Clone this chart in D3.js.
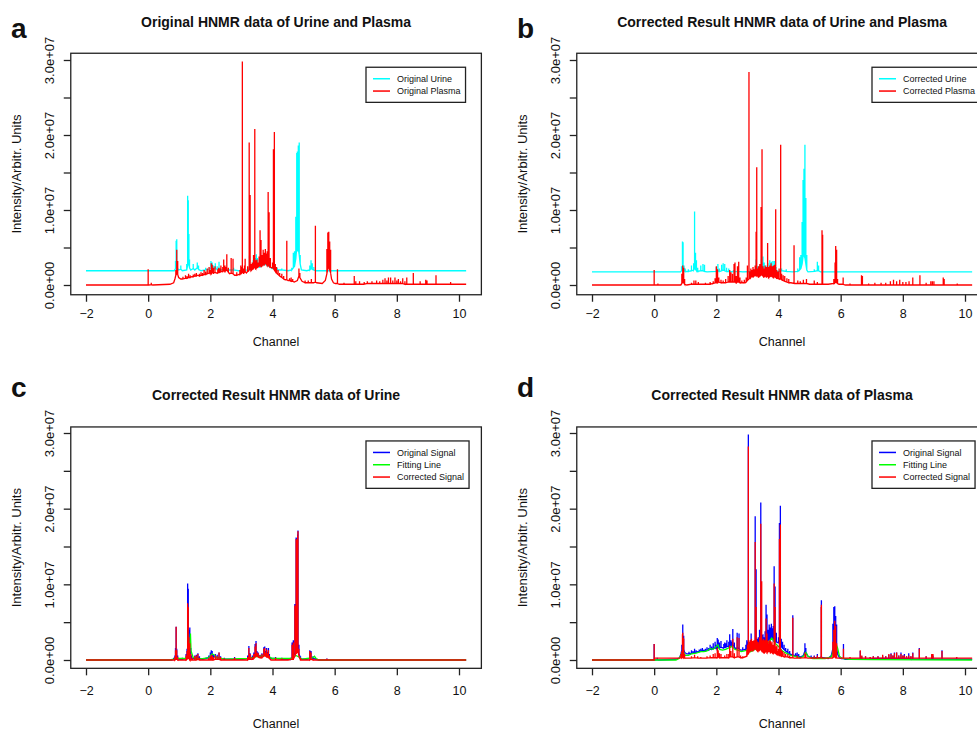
<!DOCTYPE html>
<html>
<head>
<meta charset="utf-8">
<script src="https://cdn.jsdelivr.net/npm/d3@7"></script>
<style>
    body { margin: 0; background: #fff; }
    svg { display: block; }
    text { font-family: "Liberation Sans", Arial, sans-serif; fill: #111; }
</style>
</head>
<body>
<svg class="spectra" width="977" height="730"></svg>
<script>
// intensities in units of 1e6, channel in ppm
// a point is [ppm, value]; [ppm, foot, top] is a spike going up from foot to top

var urineOrig = [
    [-2, 1.9], [0.84, 1.9], [0.88, 2.2, 3.2], [0.9, 2.4, 5.9], [0.92, 2.5, 6.1], [0.94, 2.3, 3.0], [0.97, 2.0],
    [1.05, 2.1, 2.6], [1.1, 1.9], [1.24, 2.0, 2.8], [1.27, 2.6, 11.9], [1.29, 3.0, 11.3], [1.31, 2.8, 6.8],
    [1.33, 2.3, 3.4], [1.37, 2.0], [1.45, 2.2, 2.8], [1.5, 2.0], [1.58, 2.3, 3.0], [1.62, 2.1, 2.6], [1.7, 1.9],
    [1.85, 2.0, 2.3], [1.95, 2.1], [2.02, 2.2, 3.2], [2.06, 2.3, 3.0], [2.1, 2.1, 2.6], [2.16, 2.2, 2.9],
    [2.22, 2.1, 2.5], [2.28, 2.2, 3.1], [2.33, 2.0], [2.45, 2.1, 2.4], [2.6, 2.0], [2.75, 2.0, 2.3], [2.9, 1.9],
    [3.2, 2.0, 2.4], [3.26, 2.2, 3.9], [3.3, 2.1, 2.8], [3.38, 2.3, 3.3], [3.44, 2.6, 3.6], [3.48, 2.8, 4.1],
    [3.52, 2.6, 3.6], [3.58, 2.4, 2.9], [3.64, 2.5, 3.2], [3.7, 2.7, 3.5], [3.74, 2.8, 3.8], [3.79, 2.7, 3.4],
    [3.84, 2.6, 3.6], [3.88, 2.5, 3.2], [3.93, 2.4, 3.0], [3.98, 2.2], [4.05, 2.2, 2.6], [4.15, 2.0, 2.3],
    [4.3, 2.0, 2.2], [4.5, 1.9], [4.62, 2.0, 2.3], [4.67, 2.3, 4.3], [4.71, 2.5, 4.5], [4.75, 3.5, 9.1],
    [4.78, 5.0, 17.6], [4.8, 4.5, 17.8], [4.83, 4.8, 18.6], [4.86, 4.0, 19.0], [4.89, 2.8, 4.0], [4.93, 2.0],
    [5.1, 1.9], [5.2, 2.0, 2.6], [5.24, 2.2, 3.3], [5.28, 2.1, 2.9], [5.33, 2.0, 2.4], [5.4, 1.9], [10.23, 1.9]
];

var plasmaOrig = [
    [-2, 0], [-0.02, 0], [0, 0, 2.1], [0.02, 0], [0.1, 0.05, 0.3], [0.15, 0], [0.7, 0.1], [0.82, 0.3], [0.86, 0.8],
    [0.89, 1.3, 2.0], [0.92, 1.5, 4.7], [0.95, 1.4, 3.2], [0.98, 1.0], [1.05, 0.8], [1.12, 0.8, 1.1],
    [1.2, 0.9, 1.3], [1.25, 0.9, 1.2], [1.3, 1.0, 1.5], [1.35, 1.0, 1.3], [1.4, 1.1], [1.45, 1.1, 1.4],
    [1.5, 1.2, 1.5], [1.55, 1.2, 1.6], [1.6, 1.3], [1.65, 1.2, 1.5], [1.7, 1.3, 1.7], [1.75, 1.3, 1.6],
    [1.8, 1.4, 2.0], [1.85, 1.4, 1.8], [1.9, 1.5, 2.2], [1.96, 1.6, 2.4], [2.0, 1.5, 2.0],
    [2.03, 1.5, 2.9], [2.06, 1.7, 2.7], [2.1, 1.6, 2.3], [2.15, 1.7, 2.5], [2.2, 1.6], [2.24, 1.6, 2.1], [2.27, 1.7, 2.3],
    [2.31, 1.7, 2.2], [2.34, 1.8, 2.6], [2.4, 1.8, 2.4], [2.43, 1.9, 3.4], [2.47, 1.8, 2.6], [2.5, 1.9, 2.4],
    [2.53, 2.0, 4.1], [2.58, 1.7, 2.3], [2.62, 1.5], [2.67, 1.6, 3.6], [2.73, 1.5, 3.5], [2.78, 1.3],
    [2.85, 1.3, 1.7], [2.92, 1.4], [2.95, 1.4, 2.0], [2.98, 1.5, 2.6], [3.01, 1.6, 2.4],
    [3.03, 1.7, 29.8], [3.07, 1.6, 2.2], [3.1, 1.7, 2.6], [3.12, 1.8, 3.5], [3.16, 1.6], [3.2, 1.8, 2.5], [3.25, 2.0, 19.0],
    [3.28, 2.2, 12.0], [3.31, 1.9, 2.8], [3.35, 2.1, 3.0], [3.39, 2.2, 4.0], [3.43, 2.4, 20.8], [3.46, 2.2, 3.3],
    [3.5, 2.3, 3.4], [3.54, 2.4, 3.0], [3.57, 2.5, 3.8], [3.6, 2.6, 7.3], [3.63, 2.5, 6.0], [3.67, 2.6, 4.0],
    [3.7, 2.8, 4.7], [3.73, 2.7, 4.3], [3.77, 2.9, 4.8], [3.8, 2.8, 4.2], [3.83, 2.6, 4.5], [3.86, 2.7, 12.4],
    [3.89, 2.5, 9.7], [3.93, 2.4, 3.6], [3.97, 2.3], [4.0, 2.3, 3.0], [4.03, 2.2, 18.1], [4.06, 2.0, 20.4],
    [4.09, 1.8, 2.8], [4.11, 1.7, 2.2],
    [4.13, 1.6, 2.4], [4.18, 1.4, 2.0], [4.23, 1.2, 1.6], [4.3, 1.0, 1.5], [4.36, 0.8, 1.2], [4.42, 0.7],
    [4.46, 0.7, 5.9], [4.5, 0.6], [4.55, 0.6, 0.9], [4.6, 0.5, 1.0], [4.65, 0.5, 0.8], [4.7, 0.4], [4.8, 0.6],
    [4.85, 1.2, 2.2], [4.88, 1.0, 1.6],
    [4.95, 0.5], [5.05, 0.3, 0.6], [5.15, 0.3, 0.6], [5.25, 0.3, 0.8], [5.32, 0.3], [5.38, 0.4, 7.9], [5.42, 0.3],
    [5.6, 0.2], [5.7, 0.6], [5.75, 1.5, 4.8], [5.78, 2.2, 7.0], [5.81, 2.4, 7.1], [5.84, 2.0, 5.8], [5.87, 1.6, 4.7],
    [5.9, 0.8], [5.96, 0.3], [6.02, 0.2], [6.09, 0.2, 2.1], [6.15, 0.1], [6.3, 0.1, 0.3], [6.5, 0.1],
    [6.63, 0.1, 1.2], [6.68, 0.1, 0.5], [6.8, 0.1, 0.5], [6.95, 0.1, 0.4], [7.05, 0.2, 0.5], [7.2, 0.2, 0.5],
    [7.35, 0.2, 0.6], [7.45, 0.2, 0.5], [7.55, 0.2, 0.7], [7.62, 0.2, 0.9], [7.68, 0.2, 0.6], [7.73, 0.2, 1.0],
    [7.8, 0.2, 1.0], [7.87, 0.2, 0.6], [7.94, 0.2, 1.0], [8.0, 0.2, 0.6], [8.05, 0.2, 0.8], [8.12, 0.2, 0.5],
    [8.19, 0.2, 0.9], [8.26, 0.1, 0.5], [8.32, 0.1, 1.0], [8.4, 0.1], [8.53, 0.1, 1.6], [8.6, 0.1],
    [8.75, 0.1, 0.5], [8.93, 0.1, 0.7], [8.97, 0.1, 0.6], [9.1, 0.1], [9.26, 0.1, 1.3], [9.4, 0.1],
    [9.73, 0.1, 0.4], [9.9, 0.1], [10.23, 0.1]
];

var urineCorr = [
    [-2, 1.75], [0.85, 1.75], [0.88, 1.9, 2.5], [0.91, 2.0, 5.8], [0.93, 2.0, 5.7], [0.96, 1.9, 2.6], [1.0, 1.8, 2.2],
    [1.1, 1.8, 2.1], [1.2, 1.9, 2.6], [1.27, 2.0, 2.9], [1.3, 2.2, 9.8], [1.33, 2.1, 4.3], [1.36, 1.9, 3.3],
    [1.4, 1.8, 2.3], [1.5, 1.9, 2.6], [1.57, 1.9, 2.8], [1.62, 1.8, 2.7], [1.7, 1.75], [2.0, 1.8, 2.4],
    [2.05, 1.9, 2.8], [2.1, 1.8, 2.2], [2.17, 1.9, 2.7], [2.22, 2.0, 2.9], [2.27, 1.9, 2.8], [2.33, 1.8, 2.3],
    [2.4, 1.8, 2.2], [2.55, 1.75, 2.0], [2.7, 1.8, 2.2], [2.85, 1.75], [3.2, 1.8, 2.1], [3.28, 2.0, 3.4],
    [3.33, 1.9, 2.5], [3.4, 2.0, 2.7], [3.45, 2.2, 3.4], [3.5, 2.3, 3.8], [3.54, 2.1, 3.0], [3.6, 2.0, 2.6],
    [3.66, 2.1, 2.9], [3.72, 2.2, 3.3], [3.77, 2.1, 3.1], [3.82, 2.1, 3.2], [3.87, 2.0, 3.2], [3.92, 1.9, 2.4],
    [4.0, 1.8], [4.1, 1.9, 2.2], [4.25, 1.8, 2.1], [4.45, 1.75], [4.62, 1.8, 2.2], [4.68, 2.0, 3.7],
    [4.72, 2.2, 4.0], [4.76, 2.8, 8.4], [4.79, 3.8, 14.0], [4.82, 4.0, 15.5], [4.85, 3.6, 18.7], [4.88, 2.8, 11.6],
    [4.91, 2.0, 4.0], [4.95, 1.75], [5.15, 1.8, 2.1], [5.25, 1.9, 3.1], [5.29, 1.9, 2.6], [5.35, 1.75], [10.23, 1.75]
];

var plasmaCorr = [
    [-2, 0], [-0.02, 0], [0, 0, 2.0], [0.02, 0], [0.12, 0, 0.2], [0.2, 0], [0.85, 0], [0.89, 0.2, 1.5],
    [0.92, 0.4, 2.6], [0.95, 0.3, 2.3], [0.98, 0.1, 0.8], [1.05, 0], [1.2, 0.1, 0.3], [1.28, 0.1, 0.6],
    [1.34, 0.1, 0.6], [1.42, 0.1, 0.4], [1.5, 0.1], [1.65, 0.1, 0.3], [1.8, 0.1, 0.4], [1.9, 0.2, 0.5],
    [1.96, 0.3, 0.9], [2.0, 0.3, 2.5], [2.04, 0.3, 2.1], [2.08, 0.4, 1.0], [2.15, 0.3, 0.7], [2.22, 0.3, 0.6],
    [2.3, 0.3, 0.8], [2.38, 0.4, 1.2], [2.43, 0.4, 2.0], [2.47, 0.4, 1.7], [2.52, 0.4, 1.5], [2.57, 0.4, 2.8],
    [2.6, 0.4, 3.0], [2.64, 0.3, 1.2], [2.68, 0.4, 2.5], [2.72, 0.4, 3.1], [2.76, 0.3, 1.0], [2.82, 0.3, 0.6],
    [2.9, 0.3, 0.7], [2.96, 0.4, 1.0], [3.0, 0.6, 2.6], [3.05, 0.8, 28.4], [3.08, 0.9, 1.8], [3.11, 1.0, 2.2],
    [3.14, 1.2, 2.0], [3.18, 1.1, 2.4], [3.22, 1.2, 2.1], [3.25, 1.3, 2.6], [3.28, 1.2, 7.1], [3.3, 1.4, 15.7],
    [3.33, 1.2, 2.2], [3.36, 1.1, 2.5], [3.4, 1.2, 2.8], [3.44, 1.3, 10.4], [3.47, 1.4, 18.1], [3.5, 1.2, 2.5],
    [3.53, 1.1, 2.2], [3.57, 1.2, 2.6], [3.61, 1.1, 2.4], [3.65, 1.2, 5.6], [3.68, 1.0, 2.4], [3.72, 1.1, 2.6],
    [3.76, 1.2, 2.9], [3.8, 1.1, 2.5], [3.84, 1.0, 2.6], [3.88, 1.1, 2.7], [3.91, 1.0, 10.1], [3.94, 0.9, 2.0],
    [3.98, 0.9, 1.8], [4.02, 0.8, 2.2], [4.07, 0.8, 18.7], [4.1, 0.7, 1.5], [4.15, 0.6, 1.3], [4.2, 0.5, 1.2],
    [4.27, 0.4, 0.9], [4.33, 0.3, 0.8], [4.4, 0.3], [4.5, 0.2, 5.3], [4.55, 0.2], [4.62, 0.2, 0.6],
    [4.7, 0.2, 0.5], [4.8, 0.2, 0.7], [4.9, 0.2, 0.8], [5.0, 0.1], [5.15, 0.1, 0.6], [5.25, 0.1, 0.4], [5.32, 0.1],
    [5.4, 0.1, 7.3], [5.42, 0.1, 6.7], [5.45, 0.1], [5.6, 0.1], [5.78, 0.2, 0.8], [5.82, 0.3, 3.0],
    [5.84, 0.4, 5.2], [5.87, 0.3, 4.7], [5.9, 0.2, 0.8], [5.95, 0.1], [6.08, 0.1, 1.0], [6.15, 0], [6.3, 0, 0.2],
    [6.6, 0], [6.67, 0, 1.3], [6.7, 0, 1.2], [6.75, 0], [6.9, 0, 0.2], [7.1, 0, 0.3], [7.3, 0, 0.3], [7.45, 0, 0.3],
    [7.6, 0, 0.5], [7.7, 0, 0.7], [7.8, 0, 0.5], [7.9, 0, 0.7], [8.0, 0, 0.4], [8.1, 0, 0.4], [8.2, 0, 0.5],
    [8.32, 0, 1.0], [8.4, 0], [8.55, 0, 1.3], [8.6, 0], [8.75, 0, 0.3], [8.9, 0, 0.5], [8.95, 0, 0.5],
    [9.0, 0, 0.5], [9.1, 0], [9.3, 0, 1.0], [9.33, 0, 0.8], [9.4, 0], [9.75, 0, 0.2], [10.23, 0]
];

var urineSignal = [
    [-2, 0], [0.75, 0], [0.82, 0.1, 0.3], [0.86, 0.2, 0.6], [0.88, 0.3, 1.6], [0.9, 0.4, 4.4], [0.92, 0.4, 1.5],
    [0.95, 0.2, 0.6], [1.0, 0.1], [1.1, 0.1, 0.3], [1.22, 0.2, 0.8], [1.25, 0.5, 1.5], [1.27, 0.9, 10.1],
    [1.29, 1.0, 9.4], [1.31, 0.9, 4.0], [1.34, 0.6, 4.3], [1.37, 0.3, 1.6], [1.4, 0.2, 0.6], [1.5, 0.2, 0.6],
    [1.55, 0.2, 0.7], [1.6, 0.3, 0.9], [1.65, 0.2, 0.5], [1.75, 0.1], [1.95, 0.3, 0.6], [2.0, 0.4, 1.0],
    [2.03, 0.6, 1.3], [2.06, 0.6, 1.2], [2.1, 0.4, 0.7], [2.16, 0.4, 0.8], [2.22, 0.3, 0.7], [2.28, 0.3, 1.0],
    [2.33, 0.2, 0.5], [2.45, 0.1, 0.3], [2.6, 0.1], [2.78, 0.1, 0.4], [2.9, 0.1], [3.05, 0.1, 0.2],
    [3.2, 0.2, 0.6], [3.24, 0.3, 1.85], [3.28, 0.3, 0.9], [3.35, 0.3, 0.6], [3.4, 0.4, 1.0], [3.44, 0.6, 2.1],
    [3.47, 0.7, 2.5], [3.5, 0.7, 1.2], [3.54, 0.6, 1.0], [3.6, 0.4, 0.7], [3.66, 0.5, 0.9], [3.72, 0.7, 1.7],
    [3.75, 0.8, 1.8], [3.78, 0.7, 1.2], [3.81, 0.6, 1.6], [3.84, 0.6, 1.1], [3.87, 0.5, 1.6], [3.9, 0.4, 0.8],
    [3.95, 0.2], [4.1, 0.2, 0.4], [4.3, 0.1, 0.3], [4.5, 0.1], [4.58, 0.1, 0.3], [4.63, 0.3, 2.3],
    [4.67, 0.4, 2.6], [4.72, 1.0, 7.4], [4.76, 1.5, 16.2], [4.78, 1.5, 16.1], [4.79, 1.4, 16.0],
    [4.81, 1.5, 16.6], [4.82, 1.6, 17.1], [4.85, 0.9, 2.0], [4.9, 0.2, 0.5], [4.95, 0.1], [5.1, 0.1],
    [5.2, 0.2, 1.3], [5.24, 0.3, 1.2], [5.3, 0.2, 0.5], [5.38, 0.1, 0.3], [5.5, 0], [5.75, 0, 0.2], [5.9, 0],
    [7.0, 0, 0.1], [7.2, 0, 0.1], [7.4, 0, 0.1], [10.23, 0]
];

var urineFit = [
    [-2, 0], [0.7, 0], [0.85, 0.15], [0.9, 0.3], [0.95, 0.2], [1.2, 0.2], [1.3, 0.8], [1.34, 2.0], [1.36, 3.5],
    [1.38, 1.2], [1.45, 0.3], [1.7, 0.15], [1.95, 0.3], [2.05, 0.8], [2.12, 0.7], [2.2, 0.3], [2.5, 0.1],
    [3.2, 0.2], [3.45, 0.4], [3.8, 0.6], [4.0, 0.2], [4.6, 0.2], [4.75, 0.6], [4.85, 0.4], [4.95, 0.1],
    [5.3, 0.3], [5.35, 0.5], [5.4, 0.2], [5.5, 0], [10.23, 0]
];

var urineCorrSignal = [
    [-2, 0], [0.8, 0], [0.86, 0, 0.4], [0.88, 0.1, 1.3], [0.9, 0.1, 4.4], [0.92, 0.1, 1.3], [0.95, 0, 0.4],
    [1.0, 0], [1.22, 0, 0.6], [1.25, 0.1, 1.2], [1.27, 0.2, 7.5], [1.29, 0.3, 7.0], [1.31, 0.2, 3.0],
    [1.34, 0, 2.2], [1.37, 0, 0.8], [1.42, 0, 0.3], [1.5, 0, 0.5], [1.55, 0, 0.6], [1.6, 0.1, 0.8],
    [1.65, 0, 0.3], [1.75, 0], [1.95, 0, 0.3], [2.0, 0, 0.5], [2.03, 0, 0.7], [2.06, 0, 0.6], [2.1, 0, 0.4],
    [2.16, 0.1, 0.6], [2.22, 0.1, 0.5], [2.28, 0.1, 1.0], [2.33, 0, 0.4], [2.45, 0, 0.2], [2.6, 0],
    [2.78, 0, 0.3], [2.9, 0], [3.2, 0, 0.4], [3.24, 0.1, 1.6], [3.28, 0.1, 0.8], [3.35, 0.1, 0.4],
    [3.4, 0.2, 0.8], [3.44, 0.4, 1.8], [3.47, 0.5, 2.2], [3.5, 0.5, 1.0], [3.54, 0.4, 0.9], [3.6, 0.3, 0.6],
    [3.66, 0.3, 0.8], [3.72, 0.5, 1.5], [3.75, 0.6, 1.6], [3.78, 0.5, 1.0], [3.81, 0.4, 1.4], [3.84, 0.4, 0.9],
    [3.87, 0.3, 1.3], [3.9, 0.2, 0.6], [3.95, 0], [4.1, 0, 0.3], [4.3, 0, 0.2], [4.5, 0], [4.63, 0.1, 2.0],
    [4.67, 0.1, 2.3], [4.72, 0.5, 7.2], [4.76, 1.0, 16.0], [4.78, 1.0, 15.9], [4.79, 1.0, 15.8],
    [4.81, 1.1, 16.4], [4.82, 1.2, 17.0], [4.85, 0.5, 1.5], [4.9, 0, 0.3], [4.95, 0], [5.2, 0, 1.2],
    [5.24, 0.1, 1.0], [5.3, 0, 0.2], [5.5, 0], [5.75, 0, 0.15], [5.9, 0], [10.23, 0]
];

var plasmaFit = [
    [-2, 0], [0.7, 0], [0.8, 0.2], [0.86, 0.6], [0.9, 1.0], [0.95, 1.0], [1.0, 0.6], [1.1, 0.6], [1.2, 0.8],
    [1.35, 0.9], [1.5, 1.1], [1.6, 1.1], [1.7, 1.2], [1.8, 1.5], [1.9, 1.4], [2.0, 1.8], [2.05, 2.0], [2.1, 1.4],
    [2.2, 1.3], [2.3, 1.4], [2.4, 1.6], [2.5, 1.8], [2.6, 1.4], [2.7, 1.3], [2.8, 1.1], [2.9, 1.2], [3.0, 1.3],
    [3.1, 1.1], [3.2, 1.3], [3.3, 1.5], [3.4, 1.6], [3.5, 1.8], [3.6, 2.0], [3.7, 2.4], [3.78, 2.9], [3.84, 2.6],
    [3.9, 2.2], [4.0, 1.8], [4.1, 1.3], [4.2, 1.0], [4.3, 0.8], [4.4, 0.6], [4.5, 0.5], [4.6, 0.4], [4.7, 0.3],
    [4.8, 0.5], [4.88, 1.0], [4.95, 0.5], [5.1, 0.2], [5.3, 0.2], [5.5, 0.2], [5.7, 0.4], [5.78, 1.5],
    [5.84, 2.2], [5.9, 1.6], [5.96, 0.5], [6.05, 0.2], [6.3, 0.1], [7.0, 0.05], [10.23, 0]
];

var plasmaCorrSignal = [
    [-2, 0], [-0.01, 0], [0, 0, 2.1], [0.02, 0.25], [0.8, 0.25], [0.86, 0.3, 0.8], [0.89, 0.3, 1.2],
    [0.91, 0.4, 3.4], [0.92, 0.4, 3.6], [0.94, 0.3, 2.9], [0.95, 0.3, 2.8], [0.98, 0.25, 0.8], [1.05, 0.25],
    [1.2, 0.25, 0.5], [1.3, 0.3, 0.7],
    [1.4, 0.25, 0.5], [1.5, 0.25, 0.4], [1.7, 0.25, 0.5], [1.8, 0.3, 0.6], [1.9, 0.3, 0.8], [1.96, 0.3, 0.9],
    [2.03, 0.3, 1.6], [2.06, 0.4, 1.3], [2.1, 0.3, 0.9], [2.15, 0.3, 0.8], [2.27, 0.3, 0.6], [2.34, 0.3, 0.8],
    [2.4, 0.3, 0.8], [2.43, 0.4, 1.9], [2.47, 0.4, 1.2], [2.53, 0.4, 2.8], [2.58, 0.3, 0.9], [2.67, 0.4, 3.0],
    [2.73, 0.4, 2.9], [2.78, 0.3, 0.6], [2.85, 0.3, 0.5], [2.98, 0.5, 1.4], [3.0, 0.7, 2.0], [3.03, 0.8, 28.2],
    [3.05, 1.0, 2.4], [3.07, 1.1, 1.8], [3.09, 1.2, 2.6], [3.11, 1.3, 2.2], [3.13, 1.3, 2.8], [3.15, 1.4, 2.2],
    [3.17, 1.3, 2.5], [3.19, 1.4, 2.0], [3.21, 1.4, 2.6], [3.23, 1.5, 2.3], [3.25, 1.5, 15.6], [3.28, 1.4, 7.0],
    [3.3, 1.3, 2.6], [3.32, 1.3, 2.0], [3.34, 1.2, 2.4], [3.36, 1.3, 2.2], [3.39, 1.3, 3.0], [3.41, 1.4, 2.5],
    [3.43, 1.4, 18.0], [3.46, 1.2, 10.4], [3.48, 1.2, 2.6], [3.5, 1.1, 2.3], [3.52, 1.1, 2.8], [3.54, 1.0, 2.0],
    [3.56, 1.1, 2.6], [3.58, 1.1, 2.4], [3.6, 1.2, 5.5], [3.63, 1.0, 3.5], [3.65, 1.1, 2.5], [3.67, 1.1, 2.2],
    [3.7, 1.2, 2.6], [3.72, 1.1, 2.3], [3.74, 1.0, 2.5], [3.77, 1.1, 2.2], [3.79, 1.0, 2.4], [3.81, 1.0, 1.8],
    [3.83, 0.9, 2.0], [3.86, 1.0, 10.1], [3.89, 0.9, 7.0], [3.91, 0.9, 1.8], [3.93, 0.8, 1.6], [3.95, 0.8, 1.9],
    [3.97, 0.7, 1.2], [4.0, 0.7, 1.5], [4.03, 0.6, 16.0], [4.06, 0.6, 17.9], [4.09, 0.5, 1.4],
    [4.13, 0.5, 1.2], [4.18, 0.4, 1.0], [4.23, 0.4, 0.8], [4.3, 0.4, 0.8], [4.36, 0.3, 0.6], [4.46, 0.3, 5.6],
    [4.5, 0.25], [4.6, 0.25, 0.6], [4.7, 0.25, 0.4], [4.85, 0.3, 1.0], [4.88, 0.3, 0.8], [4.95, 0.25],
    [5.05, 0.25, 0.4], [5.15, 0.25, 0.5], [5.25, 0.25, 0.6], [5.37, 0.3, 7.0], [5.38, 0.3, 7.3], [5.42, 0.25],
    [5.7, 0.25], [5.75, 0.3, 2.4], [5.78, 0.4, 4.0], [5.81, 0.4, 5.2], [5.84, 0.3, 4.5], [5.87, 0.3, 2.2], [5.9, 0.25],
    [6.09, 0.25, 1.5], [6.15, 0.25], [6.3, 0.25, 0.4], [6.63, 0.25, 1.3], [6.68, 0.25, 0.6], [6.8, 0.25, 0.5],
    [6.95, 0.25, 0.4], [7.05, 0.25, 0.5], [7.2, 0.25, 0.5], [7.35, 0.25, 0.7], [7.45, 0.25, 0.5],
    [7.55, 0.25, 0.8], [7.62, 0.25, 0.8], [7.68, 0.25, 0.6], [7.73, 0.25, 0.9], [7.8, 0.25, 1.0],
    [7.87, 0.25, 0.6], [7.94, 0.25, 0.8], [8.0, 0.25, 0.6], [8.05, 0.25, 0.6], [8.12, 0.25, 0.5],
    [8.19, 0.25, 0.6], [8.26, 0.25, 0.5], [8.32, 0.25, 0.9], [8.53, 0.25, 1.5], [8.75, 0.25, 0.5],
    [8.93, 0.25, 0.8], [8.97, 0.25, 0.8], [9.26, 0.25, 1.2], [9.73, 0.25, 0.4], [10.23, 0.25]
];

var xTicks = [-2, 0, 2, 4, 6, 8, 10];
var yTicks = [0, 5, 10, 15, 20, 25, 30];
var yTickLabels = {0: '0.0e+00', 10: '1.0e+07', 20: '2.0e+07', 30: '3.0e+07'};

// series are listed in drawing order
var panels = [
    {label: 'a', title: 'Original HNMR data of Urine and Plasma', col: 0, row: 0,
        series: [[urineOrig, '#00ffff'], [plasmaOrig, '#ff0000']],
        legend: [['Original Urine', '#00ffff'], ['Original Plasma', '#ff0000']]},
    {label: 'b', title: 'Corrected Result HNMR data of Urine and Plasma', col: 1, row: 0,
        series: [[urineCorr, '#00ffff'], [plasmaCorr, '#ff0000']],
        legend: [['Corrected Urine', '#00ffff'], ['Corrected Plasma', '#ff0000']]},
    {label: 'c', title: 'Corrected Result HNMR data of Urine', col: 0, row: 1,
        series: [[urineSignal, '#0000ff'], [urineFit, '#00ff00'], [urineCorrSignal, '#ff0000']],
        legend: [['Original Signal', '#0000ff'], ['Fitting Line', '#00ff00'], ['Corrected Signal', '#ff0000']]},
    {label: 'd', title: 'Corrected Result HNMR data of Plasma', col: 1, row: 1,
        series: [[plasmaOrig, '#0000ff'], [plasmaFit, '#00ff00'], [plasmaCorrSignal, '#ff0000']],
        legend: [['Original Signal', '#0000ff'], ['Fitting Line', '#00ff00'], ['Corrected Signal', '#ff0000']]}
];

// layout of the two rows and two columns
var cols = [0, 506];
var rows = [
    {yRange: [285, 60], ylim: [-1.3, 30.9], title: 27, tag: 38, tickText: 318, xTitle: 346},
    {yRange: [660, 433], ylim: [-1.1, 30.8], title: 400, tag: 397, tickText: 695, xTitle: 728}
];
var xlim = [-2.49, 10.72];

var svg = d3.select('svg.spectra');

var expand = function (pts) {
    return pts.flatMap(function (p) {
        return p.length > 2 ? [[p[0], p[1]], [p[0], p[2]], [p[0], p[1]]] : [p];
    });
};

panels.forEach(function (p) {
    var dx = cols[p.col];
    var r = rows[p.row];
    var x = d3.scaleLinear().domain([-2, 10]).range([86 + dx, 459 + dx]);
    var y = d3.scaleLinear().domain([0, 30]).range(r.yRange);
    var left = x(xlim[0]), right = x(xlim[1]);
    var top = y(r.ylim[1]), bottom = y(r.ylim[0]);

    var g = svg.append('g').attr('class', 'panel');

    var line = d3.line()
        .x(function (d) { return x(d[0]); })
        .y(function (d) { return y(d[1]); });

    p.series.forEach(function (s) {
        g.append('path')
            .attr('d', line(expand(s[0])))
            .attr('fill', 'none')
            .attr('stroke', s[1])
            .attr('stroke-width', 1.3)
            .attr('stroke-linejoin', 'miter');
    });

    // legend
    var lg = g.append('g').attr('transform', 'translate(' + (366 + dx) + ',' + (top + 14) + ')');
    var box = lg.append('rect')
        .attr('fill', '#fff')
        .attr('stroke', '#222')
        .attr('stroke-width', 1.3)
        .attr('height', p.legend.length * 12.3 + 10.5);
    var widest = 0;
    p.legend.forEach(function (e, i) {
        var ly = 11.5 + i * 12.3;
        lg.append('line')
            .attr('x1', 7).attr('x2', 24).attr('y1', ly).attr('y2', ly)
            .attr('stroke', e[1]).attr('stroke-width', 1.5);
        var t = lg.append('text')
            .attr('x', 31).attr('y', ly + 3.2)
            .style('font-size', '9px')
            .text(e[0]);
        widest = Math.max(widest, t.node().getComputedTextLength());
    });
    box.attr('width', widest + 36);

    // frame
    g.append('rect')
        .attr('x', left).attr('y', top)
        .attr('width', right - left).attr('height', bottom - top)
        .attr('fill', 'none').attr('stroke', '#222').attr('stroke-width', 1.3);

    var xAxis = g.append('g')
        .attr('transform', 'translate(0,' + bottom + ')')
        .call(d3.axisBottom(x).tickValues(xTicks).tickSize(7).tickFormat(d3.format('d')));
    xAxis.select('.domain').remove();
    xAxis.selectAll('line').attr('stroke', '#222').attr('stroke-width', 1.3);
    xAxis.selectAll('text')
        .attr('y', r.tickText - bottom).attr('dy', 0)
        .attr('fill', '#111')
        .style('font-size', '12.5px')
        .style('font-family', '"Liberation Sans", Arial, sans-serif');

    var yAxis = g.append('g')
        .attr('transform', 'translate(' + left + ',0)')
        .call(d3.axisLeft(y).tickValues(yTicks).tickSize(7).tickFormat(function (d) {
            return yTickLabels[d] || '';
        }));
    yAxis.select('.domain').remove();
    yAxis.selectAll('line').attr('stroke', '#222').attr('stroke-width', 1.3);
    yAxis.selectAll('text')
        .attr('x', 0).attr('dy', 0)
        .attr('text-anchor', 'middle')
        .attr('transform', 'translate(' + (53.5 + dx - left) + ',0) rotate(-90)')
        .attr('fill', '#111')
        .style('font-size', '13px')
        .style('font-family', '"Liberation Sans", Arial, sans-serif');

    g.append('text')
        .attr('x', (left + right) / 2).attr('y', r.title)
        .attr('text-anchor', 'middle')
        .style('font-size', '14px').style('font-weight', 'bold')
        .text(p.title);

    g.append('text')
        .attr('x', 11 + dx).attr('y', r.tag)
        .style('font-size', '28px').style('font-weight', 'bold')
        .text(p.label);

    g.append('text')
        .attr('x', (left + right) / 2).attr('y', r.xTitle)
        .attr('text-anchor', 'middle')
        .style('font-size', '12.5px')
        .text('Channel');

    g.append('text')
        .attr('transform', 'translate(' + (21 + dx) + ',' + ((top + bottom) / 2) + ') rotate(-90)')
        .attr('text-anchor', 'middle')
        .style('font-size', '13px')
        .text('Intensity/Arbitr. Units');
});
</script>
</body>
</html>
